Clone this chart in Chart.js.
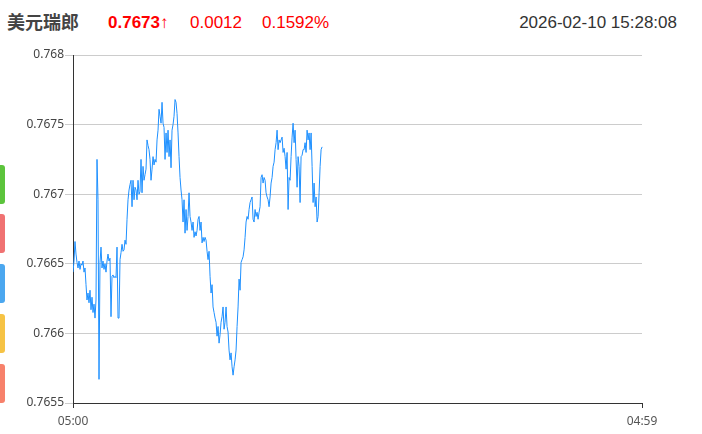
<!DOCTYPE html>
<html>
<head>
<meta charset="utf-8">
<script src="https://cdn.jsdelivr.net/npm/chart.js@4"></script>
<style>
    html, body { margin: 0; padding: 0; background: #fff; }
    body { width: 702px; height: 434px; position: relative; overflow: hidden; font-family: "Liberation Sans", Arial, sans-serif; }
    .hd { position: absolute; top: 13px; font-size: 17px; line-height: 20px; white-space: nowrap; }
    .name { left: 7px; color: #444; font-weight: bold; font-family: "Noto Sans CJK SC", sans-serif; font-size: 18px; top: 11px; }
    .price { left: 108px; color: #f00; font-weight: bold; }
    .price span { font-weight: normal; }
    .up { color: #f00; }
    .time { right: 25px; color: #333; }
    .tab { position: absolute; left: 0; width: 5px; height: 39px; border-radius: 0 3px 3px 0; }
    #wrap { position: absolute; left: 0; top: 45px; width: 702px; height: 389px; }
</style>
</head>
<body>
<div class="hd name">美元瑞郎</div>
<div class="hd price">0.7673<span>↑</span></div>
<div class="hd up" style="left:190px">0.0012</div>
<div class="hd up" style="left:262px">0.1592%</div>
<div class="hd time">2026-02-10 15:28:08</div>

<div class="tab" style="top:165px; background:#5cc43c"></div>
<div class="tab" style="top:214px; background:#f07272"></div>
<div class="tab" style="top:264px; background:#4ba7ef"></div>
<div class="tab" style="top:314px; background:#f6c345"></div>
<div class="tab" style="top:364px; background:#f7816b"></div>

<div id="wrap"><canvas id="chart"></canvas></div>

<script>
// Intraday session: 05:00 -> 04:59 next day (1439 minutes)
const sessionMinutes = 1439;
const xTickLabels = ['05:00', '04:59'];
const yTicks = [0.7655, 0.766, 0.7665, 0.767, 0.7675, 0.768];

// one quote sampled about every 2.53 minutes from 05:00
const sampleMinutes = 2.53;
const prices = [
    0.76644, 0.76652, 0.76666, 0.76657, 0.76651, 0.76647, 0.76652, 0.76646, 0.76650, 0.76649,
    0.76652, 0.76644, 0.76647, 0.76635, 0.76624, 0.76629, 0.76622, 0.76631, 0.76617, 0.76626,
    0.76615, 0.76621, 0.76611, 0.76624, 0.76725, 0.76696, 0.76567, 0.76651, 0.76662, 0.76647,
    0.76652, 0.76646, 0.76650, 0.76644, 0.76652, 0.76657, 0.76652, 0.76654, 0.76612, 0.76641,
    0.76642, 0.76640, 0.76641, 0.76640, 0.76662, 0.76611, 0.76611, 0.76653, 0.76658, 0.76664,
    0.76659, 0.76660, 0.76667, 0.76664, 0.76682, 0.76696, 0.76703, 0.76707, 0.76710, 0.76691,
    0.76710, 0.76696, 0.76705, 0.76703, 0.76696, 0.76710, 0.76700, 0.76702, 0.76725, 0.76701,
    0.76720, 0.76710, 0.76714, 0.76718, 0.76739, 0.76735, 0.76732, 0.76725, 0.76710, 0.76718,
    0.76727, 0.76721, 0.76725, 0.76723, 0.76739, 0.76746, 0.76761, 0.76756, 0.76751, 0.76766,
    0.76751, 0.76748, 0.76725, 0.76744, 0.76730, 0.76746, 0.76727, 0.76739, 0.76719, 0.76746,
    0.76750, 0.76756, 0.76768, 0.76766, 0.76758, 0.76744, 0.76727, 0.76712, 0.76703, 0.76696,
    0.76680, 0.76696, 0.76672, 0.76689, 0.76674, 0.76684, 0.76701, 0.76684, 0.76680, 0.76674,
    0.76680, 0.76669, 0.76673, 0.76670, 0.76674, 0.76682, 0.76684, 0.76674, 0.76680, 0.76665,
    0.76669, 0.76666, 0.76669, 0.76667, 0.76659, 0.76653, 0.76659, 0.76641, 0.76629, 0.76635,
    0.76619, 0.76615, 0.76611, 0.76608, 0.76598, 0.76605, 0.76593, 0.76599, 0.76608, 0.76612,
    0.76619, 0.76603, 0.76608, 0.76619, 0.76605, 0.76601, 0.76588, 0.76581, 0.76586, 0.76576,
    0.76570, 0.76576, 0.76581, 0.76588, 0.76605, 0.76619, 0.76639, 0.76631, 0.76651, 0.76653,
    0.76655, 0.76660, 0.76669, 0.76680, 0.76684, 0.76682, 0.76689, 0.76694, 0.76696, 0.76698,
    0.76682, 0.76680, 0.76689, 0.76684, 0.76687, 0.76682, 0.76687, 0.76691, 0.76712, 0.76714,
    0.76708, 0.76712, 0.76710, 0.76701, 0.76698, 0.76696, 0.76691, 0.76698, 0.76708, 0.76712,
    0.76720, 0.76723, 0.76732, 0.76737, 0.76746, 0.76732, 0.76739, 0.76737, 0.76739, 0.76741,
    0.76730, 0.76733, 0.76727, 0.76718, 0.76730, 0.76689, 0.76712, 0.76710, 0.76727, 0.76741,
    0.76751, 0.76737, 0.76746, 0.76725, 0.76705, 0.76727, 0.76720, 0.76694, 0.76727, 0.76728,
    0.76732, 0.76732, 0.76737, 0.76730, 0.76746, 0.76739, 0.76744, 0.76732, 0.76744, 0.76720,
    0.76694, 0.76708, 0.76691, 0.76698, 0.76680, 0.76684, 0.76701, 0.76720, 0.76732, 0.76734
];

const points = prices.map((p, i) => ({ x: i * sampleMinutes, y: p }));

new Chart(document.getElementById('chart'), {
    type: 'line',
    data: {
        datasets: [{
            data: points,
            borderColor: '#1e90ff',
            borderWidth: 1,
            pointRadius: 0,
            tension: 0,
            fill: false
        }]
    },
    options: {
        responsive: true,
        maintainAspectRatio: false,
        animation: false,
        layout: { padding: { top: 10, right: 60, bottom: 0, left: 0 } },
        plugins: { legend: { display: false }, tooltip: { enabled: false } },
        scales: {
            x: {
                type: 'linear',
                min: 0,
                max: sessionMinutes,
                afterBuildTicks: (s) => { s.ticks = [{ value: 0 }, { value: sessionMinutes }]; },
                afterFit: (s) => { s.height = 31; },
                border: { color: '#333', width: 1 },
                grid: { drawOnChartArea: false, drawTicks: true, tickLength: 5, color: '#333' },
                ticks: {
                    maxRotation: 0,
                    autoSkip: false,
                    padding: 6,
                    color: '#555',
                    font: { size: 12, family: '"Noto Sans", sans-serif' },
                    callback: (v) => v === 0 ? xTickLabels[0] : xTickLabels[1]
                }
            },
            y: {
                min: yTicks[0],
                max: yTicks[yTicks.length - 1],
                afterBuildTicks: (s) => { s.ticks = yTicks.map(v => ({ value: v })); },
                afterFit: (s) => { s.width = 73; },
                border: { color: '#333', width: 1 },
                grid: { color: '#ccc', tickLength: 8 },
                ticks: {
                    padding: 1,
                    color: '#444',
                    font: { size: 12, family: '"Noto Sans", sans-serif' },
                    callback: (v) => String(parseFloat(v.toFixed(4)))
                }
            }
        }
    }
});
</script>
</body>
</html>
